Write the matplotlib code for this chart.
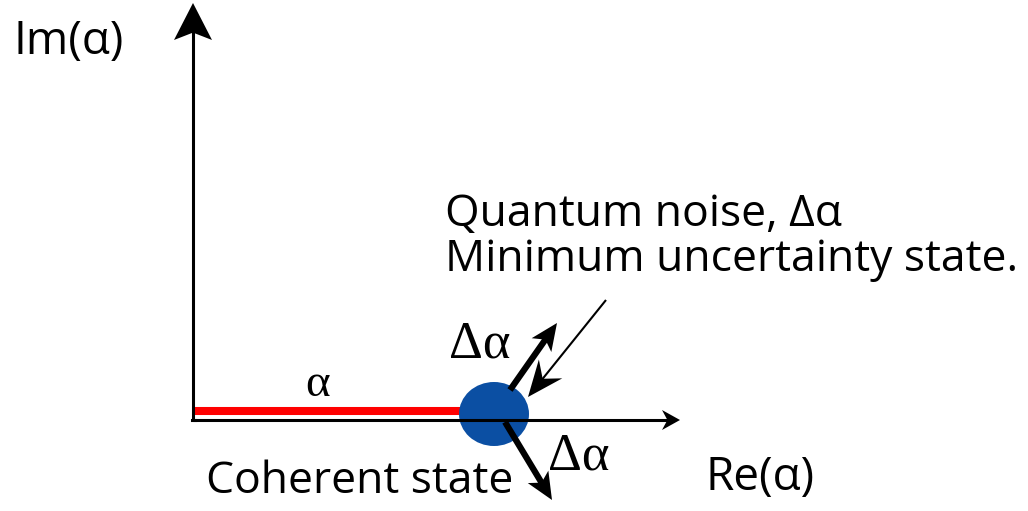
import numpy as np
import matplotlib.pyplot as plt
from matplotlib.patches import Polygon, Ellipse

# phase-space sketch, everything in pixel units of the original picture
origin = (193, 420)           # where the Re / Im axes cross
im_top = 3                    # tip of the Im axis
re_end = 680                  # tip of the Re axis
alpha_x = 494                 # position of the coherent state along Re
blob_w, blob_h = 70, 64       # size of the noise blob
red_y = 411

# (start, tip) of the two uncertainty arrows and of the pointer
noise_arrows = [((510, 390), (557, 323)), ((505, 422), (552, 500))]
pointer = ((606, 300), (528, 397))

labels = ['Im(α)', 'Re(α)', 'Quantum noise, Δα', 'Minimum uncertainty state.',
          'Coherent state', 'α', 'Δα', 'Δα']
label_xy = [(14, 54), (705, 490), (445, 226), (445, 271),
            (206, 493), (305, 396), (449, 358), (548, 470)]
serif = [False, False, False, False, False, True, True, True]
sizes = [33, 33, 32, 32, 32, 34, 38, 38]

SANS = ['Open Sans', 'DejaVu Sans']
SERIF = ['Liberation Serif', 'DejaVu Serif']


def stealth(ax, start, tip, hl, hw, lw, notch=0.25):
    s = np.array(start, float)
    t = np.array(tip, float)
    d = (t - s) / np.hypot(*(t - s))
    n = np.array([-d[1], d[0]])
    base = t - d * hl
    back = t - d * hl * (1 - notch)
    ax.plot([s[0], back[0] + d[0] * 2], [s[1], back[1] + d[1] * 2],
            color='black', lw=lw, solid_capstyle='butt', zorder=4)
    pts = [t, base + n * hw, back, base - n * hw]
    ax.add_patch(Polygon(pts, closed=True, color='black', lw=0, zorder=5))


fig = plt.figure(figsize=(10.28, 5.11), dpi=100)
ax = fig.add_axes([0, 0, 1, 1])
ax.set_xlim(0, 1028)
ax.set_ylim(511, 0)
ax.axis('off')

# axes
stealth(ax, origin, (origin[0], im_top), 37, 19, 2.2, notch=0.2)
stealth(ax, origin, (re_end, origin[1]), 18, 10, 2.2, notch=0.3)
ax.plot([origin[0] - 1, origin[0] + 2], [origin[1], origin[1]], color='black', lw=2.2)

# amplitude alpha
ax.plot([origin[0] + 2, alpha_x - 20], [red_y, red_y], color='#ff0000', lw=5.8,
        solid_capstyle='butt', zorder=3)

# noise blob
ax.add_patch(Ellipse((alpha_x, 414), blob_w, blob_h, color='#0b4fa3', lw=0, zorder=3))

for s, t in noise_arrows:
    stealth(ax, s, t, 27, 12, 4.5, notch=0.25)
stealth(ax, pointer[0], pointer[1], 36, 15, 1.5, notch=0.35)

for txt, (x, y), sf, fs in zip(labels, label_xy, serif, sizes):
    ax.text(x, y, txt, fontsize=fs, family=SERIF if sf else SANS,
            ha='left', va='baseline', color='black')

fig.savefig('out.png', dpi=100)
